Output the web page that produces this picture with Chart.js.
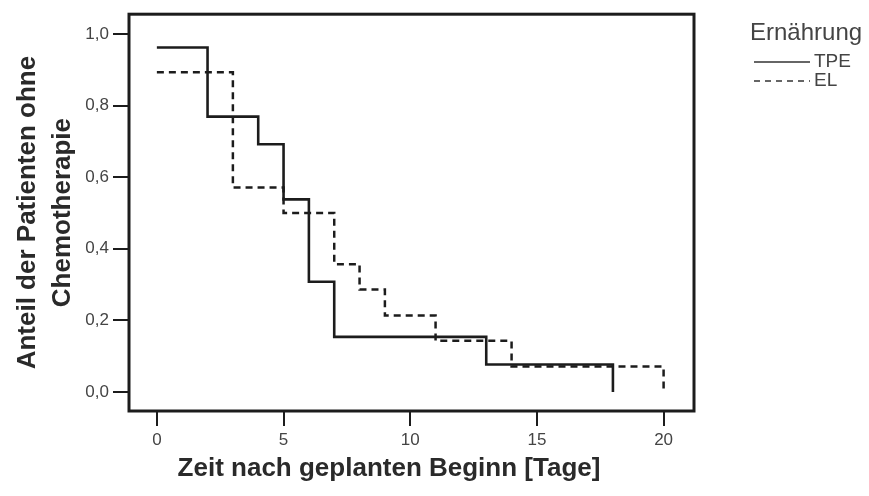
<!DOCTYPE html>
<html>
<head>
<meta charset="utf-8">
<script src="https://cdn.jsdelivr.net/npm/chart.js@4/dist/chart.umd.min.js"></script>
<style>
  html, body { margin: 0; padding: 0; background: #fff; }
  #wrap { width: 869px; height: 496px; }
</style>
</head>
<body>
<div id="wrap"><canvas id="kmChart" width="869" height="496"></canvas></div>
<script>
// Kaplan-Meier steps: time of event and survival after it
const tpeTimes = [0, 2, 4, 5, 6, 7, 13, 18];
const tpeSurvival = [0.962, 0.769, 0.692, 0.538, 0.308, 0.154, 0.077, 0.0];
const elTimes = [0, 3, 5, 7, 8, 9, 11, 14, 20];
const elSurvival = [0.893, 0.571, 0.5, 0.357, 0.286, 0.214, 0.143, 0.071, 0.0];

const xTicks = [0, 5, 10, 15, 20];
const xTickLabels = ['0', '5', '10', '15', '20'];
const yTicks = [0, 0.2, 0.4, 0.6, 0.8, 1.0];
const yTickLabels = ['0,0', '0,2', '0,4', '0,6', '0,8', '1,0'];

const groupNames = ['TPE', 'EL'];
const legendTitle = 'Ernährung';
const xTitle = 'Zeit nach geplanten Beginn [Tage]';
const yTitle = ['Anteil der Patienten ohne', 'Chemotherapie'];

const ink = '#1c1c1c';
const fontFam = "'Liberation Sans', Arial, sans-serif";

function toPoints(times, vals) {
    return times.map((t, i) => ({x: t, y: vals[i]}));
}

// frame round the plot, x title and legend
const extras = {
    id: 'extras',
    afterDraw(chart) {
        const ctx = chart.ctx;
        const a = chart.chartArea;
        ctx.save();
        ctx.strokeStyle = ink;
        ctx.lineWidth = 3;
        ctx.strokeRect(a.left, a.top, a.right - a.left, a.bottom - a.top);

        ctx.fillStyle = '#2a2a2a';
        ctx.font = 'bold 26px ' + fontFam;
        ctx.textAlign = 'center';
        ctx.textBaseline = 'alphabetic';
        ctx.fillText(xTitle, 389, 476);

        ctx.fillStyle = '#444';
        ctx.textAlign = 'left';
        ctx.textBaseline = 'middle';
        ctx.font = '24px ' + fontFam;
        ctx.fillText(legendTitle, 750, 33);

        ctx.font = '19px ' + fontFam;
        ctx.strokeStyle = '#333';
        ctx.lineWidth = 1.5;
        ctx.beginPath();
        ctx.moveTo(754, 62); ctx.lineTo(810, 62);
        ctx.stroke();
        ctx.fillText(groupNames[0], 814, 62);
        ctx.setLineDash([6, 5]);
        ctx.beginPath();
        ctx.moveTo(754, 81); ctx.lineTo(810, 81);
        ctx.stroke();
        ctx.setLineDash([]);
        ctx.fillText(groupNames[1], 814, 81);
        ctx.restore();
    }
};

new Chart(document.getElementById('kmChart'), {
    type: 'line',
    data: {
        datasets: [{
            label: groupNames[0],
            data: toPoints(tpeTimes, tpeSurvival),
            stepped: 'before',
            borderColor: ink,
            borderWidth: 2.6,
            pointRadius: 0,
            fill: false
        }, {
            label: groupNames[1],
            data: toPoints(elTimes, elSurvival),
            stepped: 'before',
            borderColor: ink,
            borderWidth: 2.5,
            borderDash: [7, 5],
            pointRadius: 0,
            fill: false
        }]
    },
    options: {
        responsive: false,
        animation: false,
        layout: { padding: { left: 0, top: 11, right: 175, bottom: 0 } },
        plugins: {
            legend: { display: false },
            tooltip: { enabled: false }
        },
        scales: {
            x: {
                type: 'linear',
                min: -1.1,
                max: 21.2,
                afterFit(scale) { scale.height = 85; },
                afterBuildTicks(scale) { scale.ticks = xTicks.map(v => ({value: v})); },
                grid: { drawOnChartArea: false, drawTicks: true, tickLength: 15, color: ink, lineWidth: 2 },
                border: { display: false },
                ticks: {
                    padding: 4,
                    color: '#444',
                    font: { family: fontFam, size: 17 },
                    maxRotation: 0,
                    callback: (v) => xTickLabels[xTicks.indexOf(v)]
                }
            },
            y: {
                min: -0.053,
                max: 1.055,
                afterFit(scale) { scale.width = 129; },
                afterBuildTicks(scale) { scale.ticks = yTicks.map(v => ({value: v})); },
                grid: { drawOnChartArea: false, drawTicks: true, tickLength: 16, color: ink, lineWidth: 2 },
                border: { display: false },
                ticks: {
                    padding: 4,
                    color: '#444',
                    font: { family: fontFam, size: 17 },
                    callback: (v) => yTickLabels[yTicks.findIndex(t => Math.abs(t - v) < 1e-6)]
                },
                title: {
                    display: true,
                    text: yTitle,
                    color: '#2a2a2a',
                    font: { family: fontFam, size: 26, weight: 'bold', lineHeight: 1.35 },
                    padding: { top: 10, bottom: 0 }
                }
            }
        }
    },
    plugins: [extras]
});
</script>
</body>
</html>
